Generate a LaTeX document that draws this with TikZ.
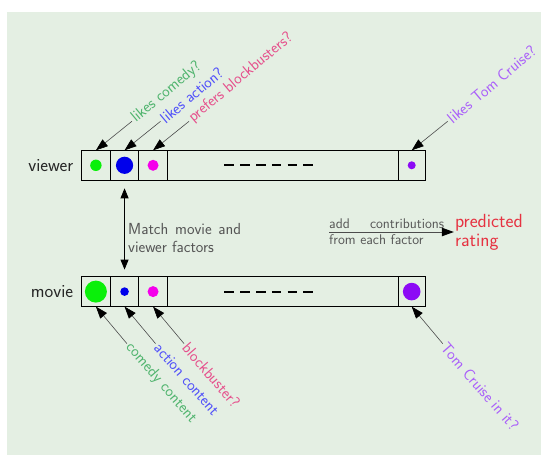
\documentclass[tikz,border=0pt]{standalone}
\usepackage{fontspec}
\usetikzlibrary{positioning,calc,arrows.meta}

\definecolor{panel}{RGB}{228,239,227}
\definecolor{dgreen}{RGB}{10,240,10}
\definecolor{dblue}{RGB}{0,0,235}
\definecolor{dpink}{RGB}{245,0,235}
\definecolor{dpurple}{RGB}{140,10,245}
\definecolor{tgreen}{RGB}{80,180,110}
\definecolor{tblue}{RGB}{80,80,250}
\definecolor{tpink}{RGB}{230,80,140}
\definecolor{tpurple}{RGB}{170,95,250}
\definecolor{tred}{RGB}{230,50,65}
\definecolor{tgray}{RGB}{85,85,85}

\begin{document}
\begin{tikzpicture}[x=1pt,y=-1pt,
  cell/.style={draw, anchor=west, minimum height=30pt, inner sep=0pt,
    outer sep=0pt, line width=0.8pt},
  rowname/.style={font=\sffamily\fontsize{18.5}{20}\selectfont, text=black!85,
    inner sep=2pt},
  note/.style={font=\sffamily\fontsize{16}{18}\selectfont, anchor=west,
    inner sep=2pt},
  pointer/.style={draw=black!70, line width=0.6pt,
    -{Triangle[length=12pt,width=8.5pt,color=black]}},
  dashline/.style={line width=2pt, dash pattern=on 9.5pt off 6.3pt}]

\useasboundingbox (0,0) rectangle (541,455);
\fill[panel] (7,12) rectangle (541,455);

\node[cell, minimum width=29pt] (v1) at (81.4,165.3) {};
\node[cell, minimum width=28.3pt, right=0pt of v1] (v2) {};
\node[cell, minimum width=28.7pt, right=0pt of v2] (v3) {};
\node[cell, minimum width=230.5pt, right=0pt of v3] (vd) {};
\node[cell, minimum width=27.6pt, right=0pt of vd] (vn) {};
\node[rowname, left=6pt of v1] (vname) {viewer};

\node[cell, minimum width=29pt] (m1) at (81.4,291.6) {};
\node[cell, minimum width=28.3pt, right=0pt of m1] (m2) {};
\node[cell, minimum width=28.7pt, right=0pt of m2] (m3) {};
\node[cell, minimum width=230.5pt, right=0pt of m3] (md) {};
\node[cell, minimum width=27.6pt, right=0pt of md] (mn) {};
\node[rowname, left=6pt of m1] (mname) {movie};

\fill[dgreen] (v1) circle (5.7pt);
\fill[dblue] (v2) circle (8.6pt);
\fill[dpink] (v3) circle (5.5pt);
\fill[dpurple] (vn) circle (4pt);
\fill[dgreen] (m1) circle (11pt);
\fill[dblue] (m2) circle (4.3pt);
\fill[dpink] (m3) circle (5.5pt);
\fill[dpurple] (mn) circle (8.8pt);

\draw[dashline] ($(vd.west)+(57,0)$) -- ++(88.3,0);
\draw[dashline] ($(md.west)+(57,0)$) -- ++(88.3,0);

\node[note, rotate=40, text=tgreen] (lcomedy) at ($(v1.north)+(36,-29)$) {likes comedy?};
\node[note, rotate=40, text=tblue] (laction) at ($(v2.north)+(36,-29)$) {likes action?};
\node[note, rotate=40, text=tpink] (lblock) at ($(v3.north)+(36,-29)$) {prefers blockbusters?};
\node[note, rotate=40, text=tpurple] (ltom) at ($(vn.north)+(36,-29)$) {likes Tom Cruise?};
\draw[pointer] (lcomedy.west) -- (v1.north);
\draw[pointer] (laction.west) -- (v2.north);
\draw[pointer] (lblock.west) -- (v3.north);
\draw[pointer] (ltom.west) -- (vn.north);

\node[note, rotate=-49, text=tgreen] (ccomedy) at ($(m1.south)+(31,37)$) {comedy content};
\node[note, rotate=-49, text=tblue] (caction) at ($(m2.south)+(31,37)$) {action content};
\node[note, rotate=-49, text=tpink] (cblock) at ($(m3.south)+(31,37)$) {blockbuster?};
\node[note, rotate=-49, text=tpurple] (ctom) at ($(mn.south)+(31,37)$) {Tom Cruise in it?};
\draw[pointer] (ccomedy.west) -- (m1.south);
\draw[pointer] (caction.west) -- (m2.south);
\draw[pointer] (cblock.west) -- (m3.south);
\draw[pointer] (ctom.west) -- (mn.south);

\draw[line width=0.8pt, shorten <=8pt, shorten >=7pt,
  {Triangle[length=10pt,width=8pt]}-{Triangle[length=10pt,width=8pt]}] (v2) -- (m2);
\node[note, text=tgray, text width=113pt, align=justify, inner sep=1pt] (match)
  at (127,238) {Match movie and viewer factors};

\node[font=\sffamily\fontsize{14}{15.8}\selectfont, text=tgray, anchor=west,
  inner sep=0pt, text width=115pt, align=justify] (contrib) at (329,232)
  {add contributions from each factor};
\node[font=\sffamily\fontsize{19}{19}\selectfont, text=tred, anchor=west,
  inner sep=1pt, align=left] (rating) at (453.8,232) {predicted\\rating};
\draw[pointer, line width=0.8pt] (contrib.west) -- (rating.west);
\end{tikzpicture}
\end{document}
